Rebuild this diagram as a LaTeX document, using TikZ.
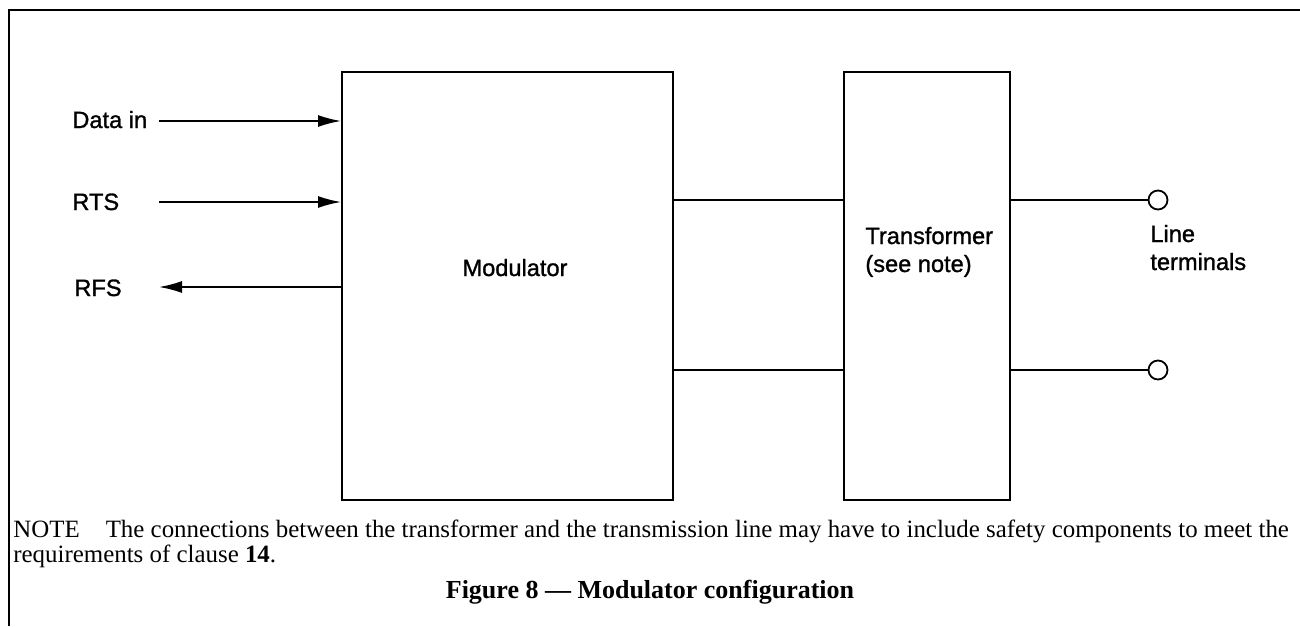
\documentclass[tikz,border=0pt]{standalone}
\usepackage{fontspec}
\setmainfont{Liberation Serif}
\newfontfamily\labelfont[FakeBold=1.2]{Liberation Sans}
\usetikzlibrary{arrows.meta}
\begin{document}
\begin{tikzpicture}[x=0.5pt,y=-0.5pt,
  frame/.style={line width=1.3pt},
  block/.style={draw, line width=1pt, inner sep=0pt},
  wire/.style={line width=0.85pt},
  sig/.style={wire, -{Latex[length=11.5pt,width=6pt]}},
  term/.style={draw, circle, line width=0.9pt, minimum size=9.5pt, inner sep=0pt},
  lbl/.style={font=\labelfont\fontsize{11.8}{14}\selectfont, inner sep=0pt},
  notetext/.style={font=\fontsize{12.45}{14}\selectfont, inner sep=0pt, anchor=base west},
  ]
\useasboundingbox (0,0) rectangle (1300,626);
% page frame
\draw[frame] (9,626) -- (9,10) -- (1300,10);

% blocks
\node[block, minimum width=165.5pt, minimum height=214pt] (mod) at (507.5,286) {};
\node[block, minimum width=83pt, minimum height=214pt] (xf) at (927,286) {};

% line terminals
\node[term] (t1) at (1158,200) {};
\node[term] (t2) at (1158,370) {};
\draw[wire] (mod.east |- t1) -- (xf.west |- t1);
\draw[wire] (mod.east |- t2) -- (xf.west |- t2);
\draw[wire] (xf.east |- t1) -- (t1);
\draw[wire] (xf.east |- t2) -- (t2);

% interface signals
\coordinate (din) at (159,121);
\coordinate (rts) at (159,202);
\coordinate (rfs) at (159,287);
\draw[sig] (din) -- (din -| mod.west);
\draw[sig] (rts) -- (rts -| mod.west);
\draw[sig] (rfs -| mod.west) -- (rfs);

% labels
\node[lbl, anchor=base west] (ldin) at (72,128) {Data in};
\node[lbl, anchor=base west] (lrts) at (72,210) {RTS};
\node[lbl, anchor=base west] (lrfs) at (74,296) {RFS};
\node[lbl, anchor=base] (lmod) at (515,276) {Modulator};
\node[lbl, anchor=base west, align=left] (lxf) at (865,272) {Transformer\\(see note)};
\node[lbl, anchor=base west, align=left] (lterm) at (1150,270) {Line\\terminals};

% note and caption
\node[notetext] (note1) at (13,537) {NOTE\hspace{13pt}The connections between the transformer and the transmission line may have to include safety components to meet the};
\node[notetext] (note2) at (13,562) {requirements of clause \textbf{14}.};
\node[font=\bfseries\fontsize{13}{15}\selectfont, inner sep=0pt, anchor=base] (cap) at (650,598) {Figure 8 — Modulator configuration};
\end{tikzpicture}
\end{document}
